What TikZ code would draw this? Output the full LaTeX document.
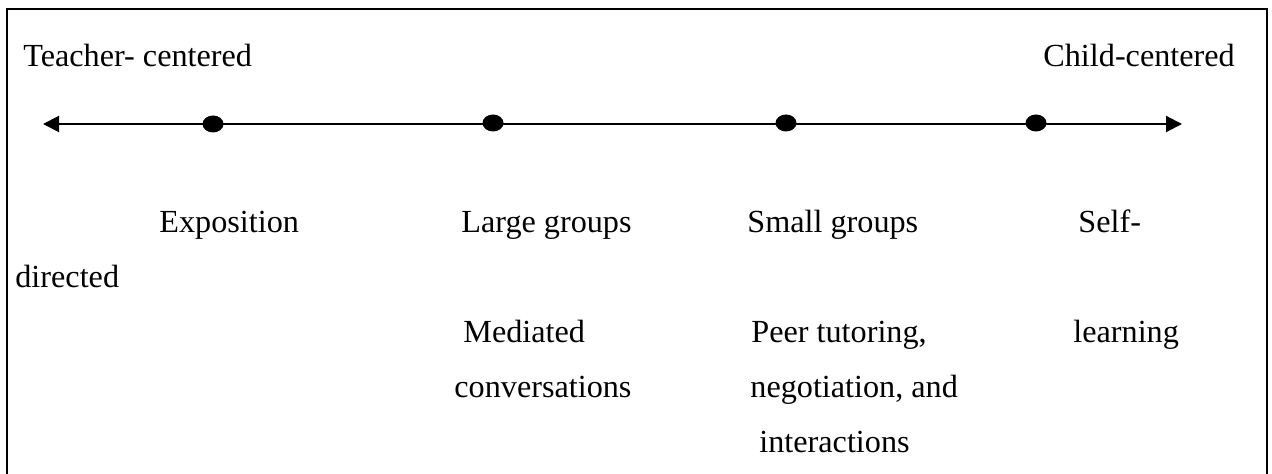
\documentclass[tikz,border=0pt]{standalone}
\usepackage{fontspec}
\setmainfont{Liberation Serif}
\usetikzlibrary{arrows.meta, shapes.geometric}

\begin{document}
\begin{tikzpicture}[x=0.5pt, y=-0.5pt,
    lbl/.style={anchor=base west, inner sep=0pt, font=\fontsize{16.1}{19}\selectfont},
    stop/.style={ellipse, fill=black, inner sep=0pt, minimum width=10.5pt, minimum height=8.5pt}]
  \useasboundingbox (0,0) rectangle (1272,474);
  \draw[line width=1pt] (6.5,474) -- (6.5,9) -- (1267,9) -- (1267,474);

  \node[lbl] (teacher) at (23,67) {Teacher- centered};
  \node[lbl] (child) at (1043,67) {Child-centered};

  \coordinate (lend) at (43,124);
  \coordinate (rend) at (1182,124);
  \draw[line width=1pt, {Triangle[length=8pt,width=8pt]}-{Triangle[length=8pt,width=8pt]}]
    (lend) -- (rend);
  \node[stop] (expdot) at (213,124) {};
  \node[stop] (largedot) at (493,123) {};
  \node[stop] (smalldot) at (786,123) {};
  \node[stop] (selfdot) at (1036,123) {};

  \node[lbl] (expo) at (159,233) {Exposition};
  \node[lbl] (large) at (461,233) {Large groups};
  \node[lbl] (small) at (747,233) {Small groups};
  \node[lbl] (self) at (1078,233) {Self-};
  \node[lbl] (directed) at (15,288) {directed};
  \node[lbl] (mediated) at (463,343) {Mediated};
  \node[lbl] (peer) at (751,343) {Peer tutoring,};
  \node[lbl] (learning) at (1073,343) {learning};
  \node[lbl] (conv) at (454,398) {conversations};
  \node[lbl] (negot) at (750,398) {negotiation, and};
  \node[lbl] (inter) at (759,453) {interactions};
\end{tikzpicture}
\end{document}
